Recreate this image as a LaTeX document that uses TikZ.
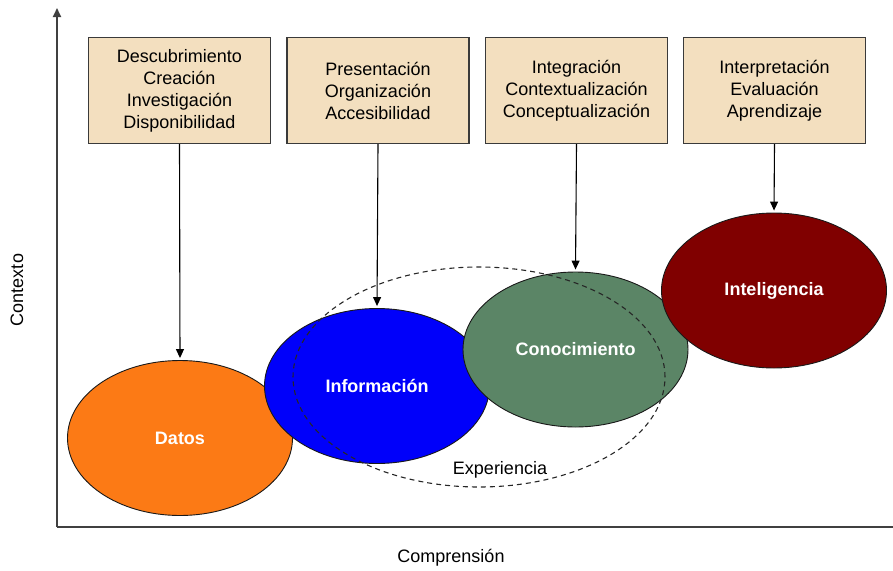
\documentclass[tikz,border=0pt]{standalone}
\usepackage{fontspec}
\setmainfont{Liberation Sans}
\usetikzlibrary{shapes.geometric,arrows.meta}
\definecolor{boxfill}{HTML}{F3DFBF}
\definecolor{boxline}{HTML}{3A3A3A}
\definecolor{axisgray}{HTML}{404040}
\definecolor{datosc}{HTML}{FC7A15}
\definecolor{infoc}{HTML}{0000FA}
\definecolor{conoc}{HTML}{5B8566}
\definecolor{intelc}{HTML}{800000}
\begin{document}
\begin{tikzpicture}[x=1pt,y=-1pt,
  every node/.style={font=\fontsize{18}{22}\selectfont},
  axisline/.style={draw=axisgray,line width=1.8pt},
  infobox/.style={draw=boxline,fill=boxfill,line width=1.3pt,
    minimum width=182pt,minimum height=106pt,align=center,inner sep=0pt},
  stage/.style={ellipse,draw=black!90,line width=0.9pt,inner sep=0pt,
    minimum width=225pt,minimum height=155pt,text=white,
    font=\fontsize{18}{22}\selectfont\bfseries},
  flow/.style={draw=black,line width=1.1pt,-{Triangle[length=9pt,width=8pt]},shorten >=2pt},
  experience/.style={ellipse,draw=black!85,line width=1.1pt,dash pattern=on 5pt off 4pt,
    minimum width=372pt,minimum height=220pt,inner sep=0pt}]
\useasboundingbox (0,0) rectangle (893,570);

% axes
\coordinate (origin) at (57,527);
\coordinate (ytop) at (57,8);
\coordinate (xend) at (893,527);
\draw[axisline,-{Triangle[length=9pt,width=8pt]}] (origin) -- (ytop);
\draw[axisline] (origin) -- (xend);
\node[rotate=90] (ylabel) at (17,290) {Contexto};
\node (xlabel) at (451,558) {Comprensión};

% activity boxes
\node[infobox] (b1) at (179.5,90.5) {Descubrimiento\\Creación\\Investigación\\Disponibilidad};
\node[infobox] (b2) at (378,90.5) {Presentación\\Organización\\Accesibilidad};
\node[infobox] (b3) at (576.5,90.5) {Integración\\Contextualización\\Conceptualización};
\node[infobox] (b4) at (774.5,90.5) {Interpretación\\Evaluación\\Aprendizaje};

% stages
\node[stage,fill=datosc] (datos) at (180,438) {Datos};
\node[stage,fill=infoc] (info) at (377,386) {Información};
\node[stage,fill=conoc] (cono) at (575.5,349.5) {Conocimiento};
\node[stage,fill=intelc] (intel) at (774,290.5) {Inteligencia};

% experience region
\node[experience] (exp) at (479,377) {};
\node (explabel) at (500,470) {Experiencia};

% connectors
\draw[flow] (b1.south) -- (datos.north);
\draw[flow] (b2.south) -- (info.north);
\draw[flow] (b3.south) -- (cono.north);
\draw[flow] (b4.south) -- (intel.north);
\end{tikzpicture}
\end{document}
